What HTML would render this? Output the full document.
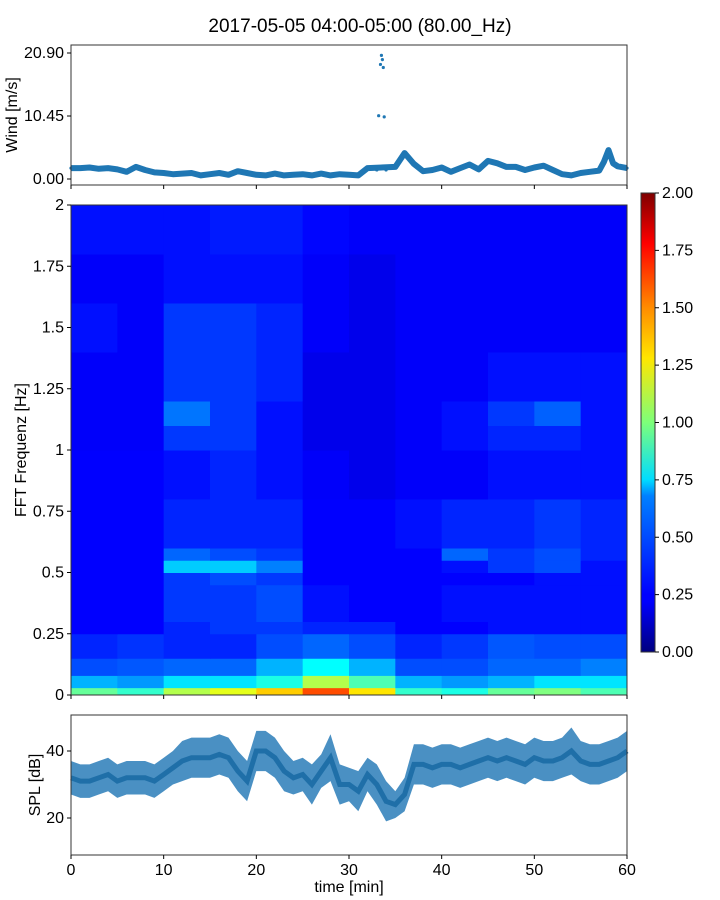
<!DOCTYPE html>
<html><head><meta charset="utf-8"><style>
body{margin:0;background:#fff;}
svg{display:block;font-family:"Liberation Sans","DejaVu Sans",sans-serif;}
</style></head><body>
<svg id="c" width="720" height="900" xmlns="http://www.w3.org/2000/svg">
<defs>
<linearGradient id="jet" x1="0" y1="1" x2="0" y2="0">
<stop offset="0" stop-color="#00007f"/><stop offset="0.11" stop-color="#0000ff"/><stop offset="0.125" stop-color="#0000ff"/>
<stop offset="0.34" stop-color="#0080ff"/><stop offset="0.375" stop-color="#00dcff"/><stop offset="0.5" stop-color="#7dff7a"/>
<stop offset="0.64" stop-color="#ffe600"/><stop offset="0.75" stop-color="#ff8c00"/><stop offset="0.89" stop-color="#ff0000"/><stop offset="1" stop-color="#7f0000"/>
</linearGradient>
</defs>
<text x="360" y="32" text-anchor="middle" font-size="19">2017-05-05 04:00-05:00 (80.00_Hz)</text>
<g id="wind"></g>
<g id="spec"></g>
<g id="cbar"></g>
<g id="spl"></g>
</svg>
<script>
const windT=[0,1,2,3,4,5,6,7,8,9,10,11,12,13,14,15,16,17,18,19,20,21,22,23,24,25,26,27,28,29,30,31,32,33,33.2,33.4,33.5,33.6,33.7,33.8,34,35,36,37,38,39,40,41,42,43,44,45,46,47,48,49,50,51,52,53,54,55,56,57,57.5,58,58.5,59,60];
const windV=[1.8,1.8,1.9,1.7,1.8,1.6,1.2,2.0,1.5,1.1,1.0,0.8,0.9,1.0,0.6,0.8,1.0,0.7,1.3,1.0,0.7,0.6,0.9,0.6,0.7,0.8,0.6,0.9,0.6,0.8,0.7,0.6,1.8,1.5,10.5,19.0,20.5,19.8,18.5,10.3,1.5,2.0,4.3,2.5,1.3,1.5,1.9,1.2,1.8,2.4,1.6,3.0,2.6,2.0,2.0,1.5,1.9,2.2,1.5,0.8,0.6,1.0,1.2,1.4,2.8,4.8,2.6,2.1,1.8];
const windTicks=[0,10.45,20.9];
const freqEdges=[0,0.03,0.08,0.15,0.25,0.3,0.45,0.5,0.55,0.6,0.8,1.0,1.1,1.2,1.4,1.6,1.8,2.0];
const timeEdges=[0,5,10,15,20,25,30,35,40,45,50,55,60];
const specGrid=[
[0.95,0.85,1.1,1.2,1.35,1.6,1.3,0.85,0.8,0.95,1.0,0.9],
[0.6,0.55,0.7,0.7,0.8,1.1,0.9,0.6,0.55,0.6,0.7,0.7],
[0.4,0.42,0.45,0.45,0.6,0.75,0.6,0.4,0.4,0.45,0.45,0.5],
[0.32,0.35,0.32,0.32,0.4,0.45,0.4,0.32,0.36,0.42,0.4,0.4],
[0.25,0.25,0.32,0.36,0.36,0.32,0.32,0.25,0.25,0.28,0.28,0.28],
[0.25,0.25,0.36,0.36,0.4,0.28,0.25,0.25,0.28,0.28,0.28,0.28],
[0.25,0.25,0.36,0.4,0.36,0.25,0.25,0.25,0.25,0.25,0.28,0.28],
[0.25,0.25,0.65,0.65,0.5,0.25,0.25,0.25,0.28,0.36,0.4,0.28],
[0.25,0.25,0.45,0.4,0.36,0.25,0.25,0.25,0.45,0.36,0.4,0.32],
[0.25,0.25,0.32,0.32,0.32,0.25,0.25,0.28,0.32,0.32,0.36,0.32],
[0.25,0.25,0.28,0.32,0.28,0.24,0.21,0.24,0.24,0.28,0.28,0.28],
[0.24,0.24,0.36,0.36,0.28,0.21,0.21,0.24,0.28,0.32,0.32,0.28],
[0.24,0.24,0.48,0.36,0.28,0.21,0.21,0.24,0.28,0.36,0.44,0.28],
[0.24,0.24,0.36,0.36,0.32,0.21,0.21,0.24,0.24,0.28,0.28,0.28],
[0.28,0.24,0.36,0.36,0.32,0.24,0.21,0.24,0.24,0.24,0.24,0.24],
[0.24,0.24,0.28,0.28,0.28,0.24,0.21,0.24,0.24,0.24,0.24,0.24],
[0.28,0.28,0.28,0.3,0.3,0.26,0.24,0.24,0.24,0.24,0.24,0.24]];
const specTicks=[0,0.25,0.5,0.75,1,1.25,1.5,1.75,2];
const specTickLabels=["0","0.25","0.5","0.75","1","1.25","1.5","1.75","2"];
const cbarTicks=[0,0.25,0.5,0.75,1,1.25,1.5,1.75,2];
const splT=[0,1,2,3,4,5,6,7,8,9,10,11,12,13,14,15,16,17,18,19,20,21,22,23,24,25,26,27,28,29,30,31,32,33,34,35,36,37,38,39,40,41,42,43,44,45,46,47,48,49,50,51,52,53,54,55,56,57,58,59,60];
const splV=[32,31,31,32,33,31,32,32,32,31,33,35,37,38,38,38,39,38,34,31,40,40,38,34,32,33,30,34,38,30,30,28,33,30,25,24,27,36,36,35,36,36,35,36,37,38,37,38,37,36,38,37,37,38,40,37,36,36,37,38,40];
const splHalf=[5,5,5,5,5,5,5,5,5,5,5,5,6,6,6,6,6,6,6,6,6,6,6,6,5,5,6,5,7,6,5,6,5,6,6,4,5,6,6,6,6,6,6,6,6,6,6,6,6,6,6,6,6,6,7,6,6,6,6,6,6];
const splTicks=[20,40];
const timeTicks=[0,10,20,30,40,50,60];

const NS="http://www.w3.org/2000/svg";
function mk(p,tag,at){const e=document.createElementNS(NS,tag);for(const k in at)e.setAttribute(k,at[k]);p.appendChild(e);return e;}
const X0=71,X1=627,FS=16;
const xT=t=>X0+t/60*(X1-X0);
const yW=v=>179-v/20.9*126;
const yF=f=>695-f/2*490;
const yS=d=>751-(d-40)*3.35;
const yC=v=>652-v/2*459;
function jet(v){let x=Math.max(0,Math.min(1,v/2));
 const r=Math.max(0,Math.min(1,1.5-Math.abs(4*x-3))),g=Math.max(0,Math.min(1,1.5-Math.abs(4*x-2))),b=Math.max(0,Math.min(1,1.5-Math.abs(4*x-1)));
 return `rgb(${Math.round(r*255)},${Math.round(g*255)},${Math.round(b*255)})`;}
function ytick(g,y,label,x){mk(g,'line',{x1:x-4,x2:x,y1:y,y2:y,stroke:'#000'});
 const t=mk(g,'text',{x:x-7,y:y+5,'text-anchor':'end','font-size':FS});t.textContent=label;
 
 }

// wind
const gw=document.getElementById('wind');
let pts=windT.map((t,i)=>xT(t).toFixed(1)+','+yW(windV[i]).toFixed(1));
const wl=mk(gw,'polyline',{points:pts.slice(0,33).concat(pts.slice(41)).join(' '),fill:'none',stroke:'#1f77b4','stroke-width':6,'stroke-linejoin':'round'});


windT.forEach((t,i)=>{const c=mk(gw,'circle',{cx:xT(t),cy:yW(windV[i]),r:1.6,fill:'#1f77b4'});
 
 });
mk(gw,'rect',{x:X0,y:45,width:X1-X0,height:140,fill:'none',stroke:'#333'});
windTicks.forEach(v=>ytick(gw,yW(v),v.toFixed(2),X0));
timeTicks.forEach(t=>mk(gw,'line',{x1:xT(t),x2:xT(t),y1:185,y2:189,stroke:'#000'}));
let tl=mk(gw,'text',{x:17,y:115,'font-size':FS,'text-anchor':'middle',transform:'rotate(-90 17 115)'});tl.textContent='Wind [m/s]';



// spectrogram
const gs=document.getElementById('spec');
specGrid.forEach((row,r)=>row.forEach((v,c)=>{
 const x=xT(timeEdges[c]),w=xT(timeEdges[c+1])-x,y=yF(freqEdges[r+1]),h=yF(freqEdges[r])-y;
 const e=mk(gs,'rect',{x:x,y:y,width:w+0.5,height:h+0.5,fill:jet(v)});
 
 }));
mk(gs,'rect',{x:X0,y:205,width:X1-X0,height:490,fill:'none',stroke:'#333'});
specTicks.forEach((f,i)=>ytick(gs,yF(f),specTickLabels[i],X0));
timeTicks.forEach(t=>mk(gs,'line',{x1:xT(t),x2:xT(t),y1:695,y2:699,stroke:'#000'}));
tl=mk(gs,'text',{x:26,y:450,'font-size':FS,'text-anchor':'middle',transform:'rotate(-90 26 450)'});tl.textContent='FFT Frequenz [Hz]';



// colorbar
const gc=document.getElementById('cbar');
mk(gc,'rect',{x:641,y:193,width:14,height:459,fill:'url(#jet)',stroke:'#333'});
cbarTicks.forEach(v=>{const y=yC(v);mk(gc,'line',{x1:655,x2:659,y1:y,y2:y,stroke:'#000'});
 const t=mk(gc,'text',{x:662,y:y+5,'font-size':FS});t.textContent=v.toFixed(2);
 
 });

// SPL
const gp=document.getElementById('spl');
const up=splT.map((t,i)=>xT(t).toFixed(1)+','+yS(splV[i]+splHalf[i]).toFixed(1));
const lo=splT.map((t,i)=>xT(t).toFixed(1)+','+yS(splV[i]-splHalf[i]).toFixed(1)).reverse();
const band=mk(gp,'polygon',{points:up.concat(lo).join(' '),fill:'#2a7db8','fill-opacity':0.85});


const ml=mk(gp,'polyline',{points:splT.map((t,i)=>xT(t).toFixed(1)+','+yS(splV[i]).toFixed(1)).join(' '),fill:'none',stroke:'#1f6fa8','stroke-width':5});


mk(gp,'rect',{x:X0,y:715,width:X1-X0,height:140,fill:'none',stroke:'#333'});
splTicks.forEach(v=>ytick(gp,yS(v),String(v),X0));
timeTicks.forEach(t=>{mk(gp,'line',{x1:xT(t),x2:xT(t),y1:855,y2:859,stroke:'#000'});
 const e=mk(gp,'text',{x:xT(t),y:875,'text-anchor':'middle','font-size':FS});e.textContent=t;
 
 });
tl=mk(gp,'text',{x:40,y:785,'font-size':FS,'text-anchor':'middle',transform:'rotate(-90 40 785)'});tl.textContent='SPL [dB]';


tl=mk(gp,'text',{x:349,y:892,'font-size':FS,'text-anchor':'middle'});tl.textContent='time [min]';


</script>
</body></html>
